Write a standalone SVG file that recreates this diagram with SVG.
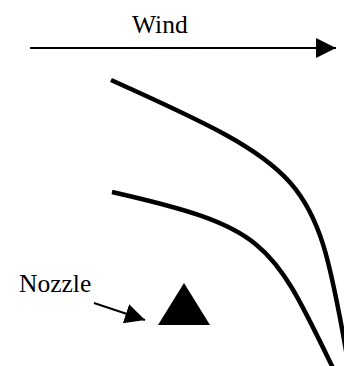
<svg xmlns="http://www.w3.org/2000/svg" width="344" height="366" viewBox="0 0 344 366">
  <style>
    .lbl { font-family: "Liberation Serif", "Times New Roman", serif; font-size: 25.5px; fill: #000; }
    .conn { stroke: #000; stroke-width: 2; fill: none; }
    .stream { stroke: #000; stroke-width: 4.5; fill: none; }
  </style>
  <defs>
    <marker id="ah" viewBox="0 0 20 20" refX="20" refY="10" markerWidth="20" markerHeight="20" markerUnits="userSpaceOnUse" orient="auto">
      <path d="M0,0 L20,10 L0,20 z" fill="#000"/>
    </marker>
  </defs>
  <rect width="344" height="366" fill="#fff"/>
  <g id="wind-label">
    <text class="lbl" x="132" y="33">Wind</text>
  </g>
  <g id="streamlines">
    <path class="stream" d="M111,80 C307,168 315,177.7 345,345 L348,362"/>
    <path class="stream" d="M112,192 C268,227.5 271.7,242.1 333,368"/>
  </g>
  <g id="nozzle">
    <polygon points="184,283 158,325 210,325" fill="#000"/>
  </g>
  <g id="nozzle-label">
    <text class="lbl" x="19" y="292">Nozzle</text>
  </g>
  <g id="connectors">
    <line class="conn" x1="30" y1="48" x2="336" y2="48" marker-end="url(#ah)"/>
    <line class="conn" x1="94" y1="303" x2="145" y2="320" marker-end="url(#ah)"/>
  </g>
</svg>
